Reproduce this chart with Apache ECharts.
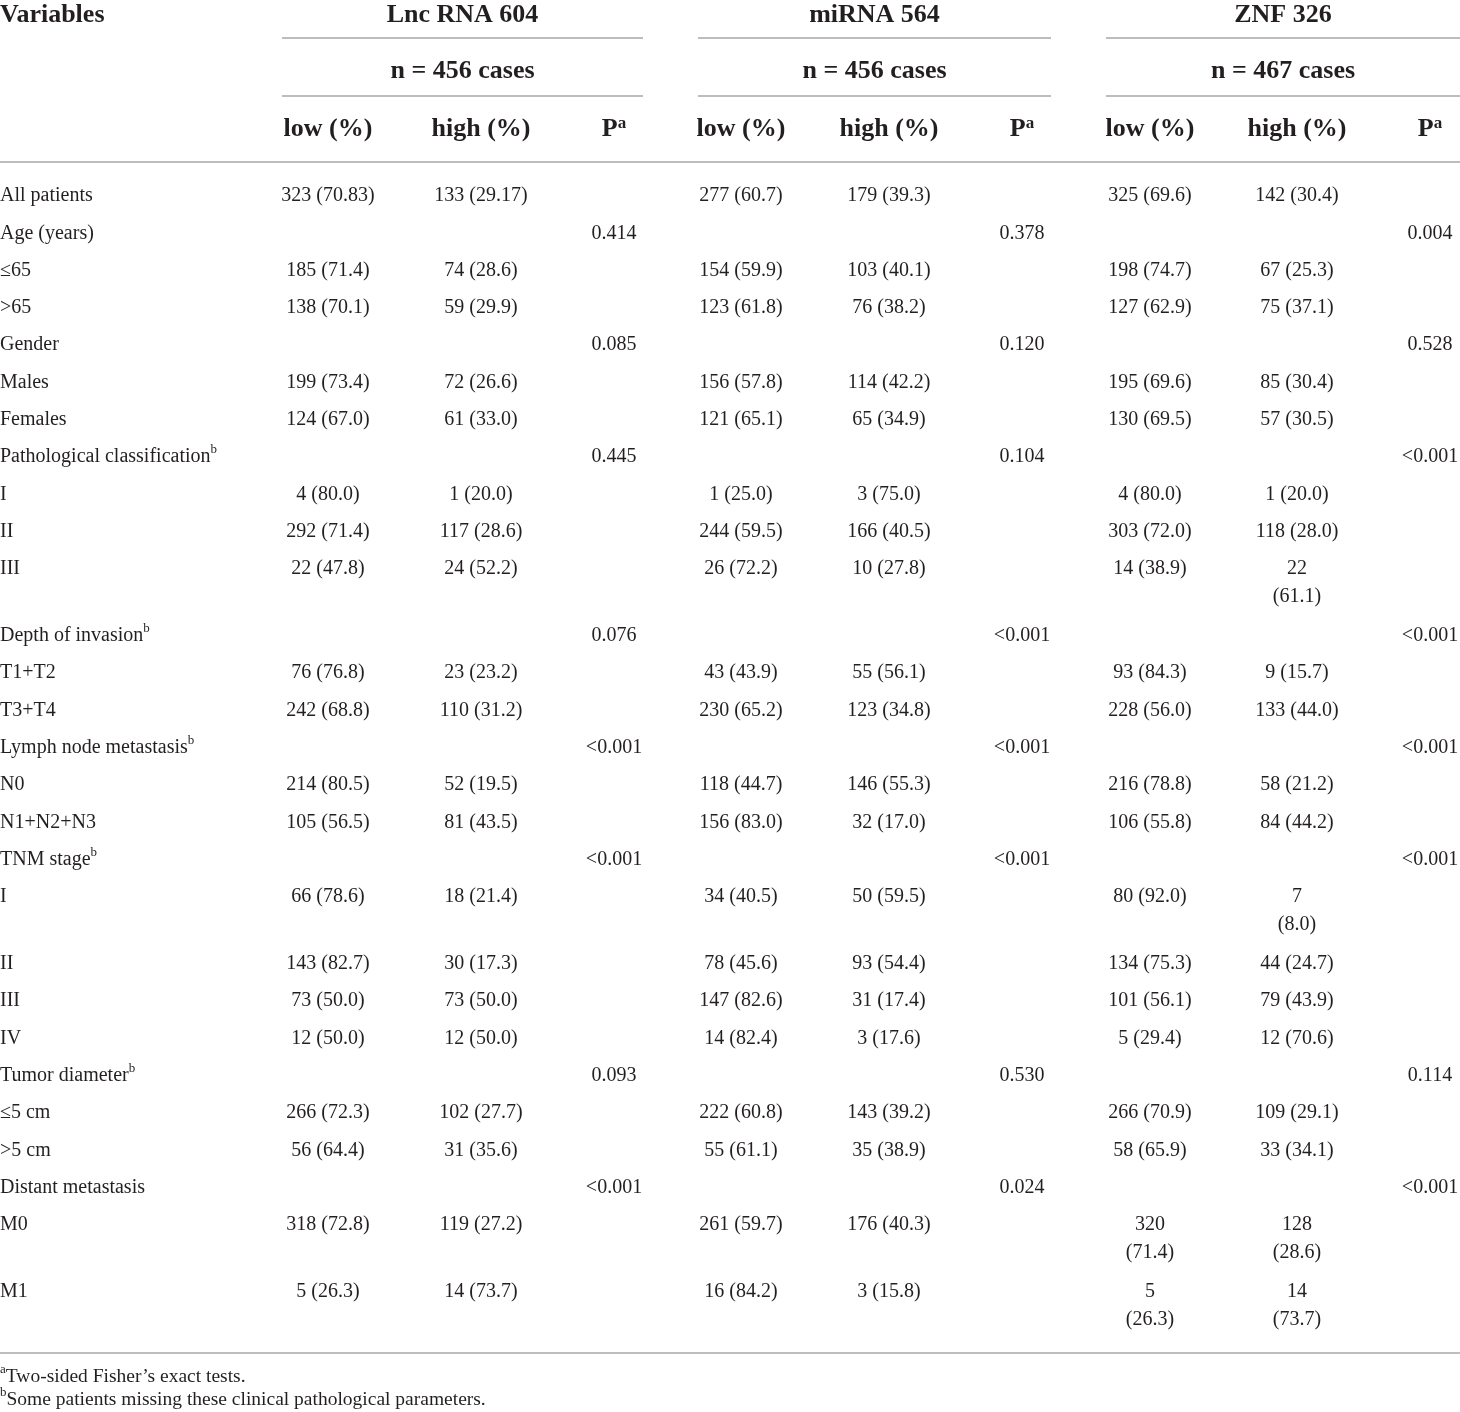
<!DOCTYPE html>
<html>
<head>
<meta charset="utf-8">
<script src="https://cdn.jsdelivr.net/npm/echarts@6/dist/echarts.min.js"></script>
<style>
  html, body { margin: 0; padding: 0; background: #fff; }
  #main { width: 1460px; height: 1412px; }
</style>
</head>
<body>
<div id="main"></div>
<script>
// 表格数据（^x 表示上标）

var groupTitles = ['Lnc RNA 604', 'miRNA 564', 'ZNF 326'];
var groupCases = ['n = 456 cases', 'n = 456 cases', 'n = 467 cases'];
var subHeaders = ['low (%)', 'high (%)', 'P^a'];

var variables = ['All patients', 'Age (years)', '≤65', '>65', 'Gender', 'Males', 'Females',
    'Pathological classification^b', 'I', 'II', 'III', 'Depth of invasion^b', 'T1+T2', 'T3+T4',
    'Lymph node metastasis^b', 'N0', 'N1+N2+N3', 'TNM stage^b', 'I', 'II', 'III', 'IV',
    'Tumor diameter^b', '≤5 cm', '>5 cm', 'Distant metastasis', 'M0', 'M1'];

var lncLow = ['323 (70.83)', '', '185 (71.4)', '138 (70.1)', '', '199 (73.4)', '124 (67.0)',
    '', '4 (80.0)', '292 (71.4)', '22 (47.8)', '', '76 (76.8)', '242 (68.8)',
    '', '214 (80.5)', '105 (56.5)', '', '66 (78.6)', '143 (82.7)', '73 (50.0)', '12 (50.0)',
    '', '266 (72.3)', '56 (64.4)', '', '318 (72.8)', '5 (26.3)'];
var lncHigh = ['133 (29.17)', '', '74 (28.6)', '59 (29.9)', '', '72 (26.6)', '61 (33.0)',
    '', '1 (20.0)', '117 (28.6)', '24 (52.2)', '', '23 (23.2)', '110 (31.2)',
    '', '52 (19.5)', '81 (43.5)', '', '18 (21.4)', '30 (17.3)', '73 (50.0)', '12 (50.0)',
    '', '102 (27.7)', '31 (35.6)', '', '119 (27.2)', '14 (73.7)'];
var lncP = ['', '0.414', '', '', '0.085', '', '', '0.445', '', '', '', '0.076', '', '',
    '<0.001', '', '', '<0.001', '', '', '', '', '0.093', '', '', '<0.001', '', ''];

var miLow = ['277 (60.7)', '', '154 (59.9)', '123 (61.8)', '', '156 (57.8)', '121 (65.1)',
    '', '1 (25.0)', '244 (59.5)', '26 (72.2)', '', '43 (43.9)', '230 (65.2)',
    '', '118 (44.7)', '156 (83.0)', '', '34 (40.5)', '78 (45.6)', '147 (82.6)', '14 (82.4)',
    '', '222 (60.8)', '55 (61.1)', '', '261 (59.7)', '16 (84.2)'];
var miHigh = ['179 (39.3)', '', '103 (40.1)', '76 (38.2)', '', '114 (42.2)', '65 (34.9)',
    '', '3 (75.0)', '166 (40.5)', '10 (27.8)', '', '55 (56.1)', '123 (34.8)',
    '', '146 (55.3)', '32 (17.0)', '', '50 (59.5)', '93 (54.4)', '31 (17.4)', '3 (17.6)',
    '', '143 (39.2)', '35 (38.9)', '', '176 (40.3)', '3 (15.8)'];
var miP = ['', '0.378', '', '', '0.120', '', '', '0.104', '', '', '', '<0.001', '', '',
    '<0.001', '', '', '<0.001', '', '', '', '', '0.530', '', '', '0.024', '', ''];

var znfLow = ['325 (69.6)', '', '198 (74.7)', '127 (62.9)', '', '195 (69.6)', '130 (69.5)',
    '', '4 (80.0)', '303 (72.0)', '14 (38.9)', '', '93 (84.3)', '228 (56.0)',
    '', '216 (78.8)', '106 (55.8)', '', '80 (92.0)', '134 (75.3)', '101 (56.1)', '5 (29.4)',
    '', '266 (70.9)', '58 (65.9)', '', '320\n(71.4)', '5\n(26.3)'];
var znfHigh = ['142 (30.4)', '', '67 (25.3)', '75 (37.1)', '', '85 (30.4)', '57 (30.5)',
    '', '1 (20.0)', '118 (28.0)', '22\n(61.1)', '', '9 (15.7)', '133 (44.0)',
    '', '58 (21.2)', '84 (44.2)', '', '7\n(8.0)', '44 (24.7)', '79 (43.9)', '12 (70.6)',
    '', '109 (29.1)', '33 (34.1)', '', '128\n(28.6)', '14\n(73.7)'];
var znfP = ['', '0.004', '', '', '0.528', '', '', '<0.001', '', '', '', '<0.001', '', '',
    '<0.001', '', '', '<0.001', '', '', '', '', '0.114', '', '', '<0.001', '', ''];

var footnotes = ['^aTwo-sided Fisher’s exact tests.',
    '^bSome patients missing these clinical pathological parameters.'];

// 版式
var W = 1460, H = 1412;
var colX = [328, 481, 614, 741, 889, 1022, 1150, 1297, 1430];   // 各数据列中心
var groupSpan = [[282, 643], [698, 1051], [1106, 1460]];        // 分组标题下的横线
var headY = [15, 71, 129];
var ruleY = [38, 96, 162];
var bodyTop = 196, rowStep = 37.3, wrapExtra = 29.6, lineH = 28;
var bottomRuleY = 1353, noteY = [1377, 1400];
var textColor = '#231f20', ruleColor = '#bdbdbd';
var serif = '"Liberation Serif", "DejaVu Serif", serif';

var columns = [lncLow, lncHigh, lncP, miLow, miHigh, miP, znfLow, znfHigh, znfP];

// 每行的 y（折行的行要多占一点）
var rowY = [];
var extra = 0;
variables.forEach(function (v, i) {
    rowY.push(bodyTop + i * rowStep + extra);
    var wrapped = columns.some(function (col) { return col[i].indexOf('\n') >= 0; });
    if (wrapped) extra += wrapExtra;
});

// 单元格列表
var cells = [];
function addCell(x, y, text, align, bold, size) {
    if (!text) return;
    cells.push({ x: x, y: y, text: text.replace(/\^(\w)/g, '{sup|$1}'), align: align, bold: bold, size: size });
}

addCell(0, headY[0], 'Variables', 'left', true, 26);
groupTitles.forEach(function (t, g) {
    var cx = (groupSpan[g][0] + groupSpan[g][1]) / 2;
    addCell(cx, headY[0], t, 'center', true, 26);
    addCell(cx, headY[1], groupCases[g], 'center', true, 26);
    subHeaders.forEach(function (s, k) {
        addCell(colX[g * 3 + k], headY[2], s, 'center', true, 26);
    });
});

variables.forEach(function (v, i) {
    addCell(0, rowY[i], v, 'left', false, 20);
    columns.forEach(function (col, c) {
        addCell(colX[c], rowY[i], col[i], 'center', false, 20);
    });
});

footnotes.forEach(function (t, i) {
    addCell(0, noteY[i], t, 'left', false, 19.5);
});

// 横线
var rules = [];
ruleY.slice(0, 2).forEach(function (y) {
    groupSpan.forEach(function (s) { rules.push([s[0], s[1], y]); });
});
rules.push([0, W, ruleY[2]]);
rules.push([0, W, bottomRuleY]);

var myChart = echarts.init(document.getElementById('main'));

var option = {
    backgroundColor: '#fff',
    animation: false,
    grid: { left: 0, right: 0, top: 0, bottom: 0 },
    xAxis: { type: 'value', min: 0, max: W, show: false },
    yAxis: { type: 'value', min: 0, max: H, inverse: true, show: false },
    series: [
        {
            type: 'custom',
            clip: false,
            silent: true,
            data: rules,
            renderItem: function (params, api) {
                var a = api.coord([api.value(0), api.value(2)]);
                var b = api.coord([api.value(1), api.value(2)]);
                return {
                    type: 'line',
                    shape: { x1: a[0], y1: a[1], x2: b[0], y2: b[1] },
                    style: { stroke: ruleColor, lineWidth: 2 }
                };
            }
        },
        {
            type: 'custom',
            clip: false,
            silent: true,
            data: cells.map(function (c) { return [c.x, c.y]; }),
            renderItem: function (params, api) {
                var c = cells[params.dataIndex];
                var p = api.coord([api.value(0), api.value(1)]);
                var weight = c.bold ? 'bold' : 'normal';
                return {
                    type: 'text',
                    x: p[0],
                    y: p[1] - lineH / 2,
                    style: {
                        text: c.text,
                        fill: textColor,
                        fontFamily: serif,
                        fontSize: c.size,
                        fontWeight: weight,
                        align: c.align,
                        verticalAlign: 'top',
                        lineHeight: lineH,
                        rich: {
                            sup: {
                                fontFamily: serif,
                                fontSize: Math.round(c.size * 0.65),
                                fontWeight: weight,
                                fill: textColor,
                                lineHeight: Math.round(c.size),
                                verticalAlign: 'top'
                            }
                        }
                    }
                };
            }
        }
    ]
};

myChart.setOption(option);
</script>
</body>
</html>
